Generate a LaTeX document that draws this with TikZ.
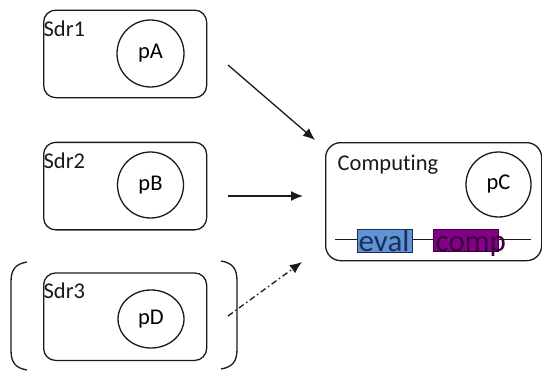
\documentclass[tikz,border=0pt]{standalone}
\usepackage{fontspec}
\setmainfont{Carlito}[Ligatures={NoCommon}]
\usetikzlibrary{arrows.meta,shapes.geometric}
\definecolor{evalfill}{HTML}{5F93D3}
\definecolor{evaltext}{HTML}{1B2F58}
\definecolor{compfill}{HTML}{84008A}
\definecolor{comptext}{HTML}{3A0039}
\definecolor{ink}{HTML}{1A1A1A}
\begin{document}
\begin{tikzpicture}[x=1pt,y=-1pt,
  line width=1.3pt, draw=ink,
  sdrbox/.style={draw=ink,rounded corners=12pt,minimum width=163pt,inner sep=0pt,anchor=north west},
  proc/.style={draw=ink,circle,inner sep=0pt,font=\fontsize{22.5}{26}\selectfont},
  lbl/.style={inner sep=0pt,anchor=base west,font=\fontsize{22.5}{26}\selectfont,text=ink},
  arr/.style={draw=ink,line width=1.3pt,-{Latex[length=12pt,width=10pt]}},
  tagbox/.style={anchor=north west,inner sep=0pt,line width=0.7pt},
  tagtxt/.style={inner sep=0pt,anchor=base west,font=\fontsize{31}{34}\selectfont}
]
\useasboundingbox (0,0) rectangle (542,372);
% sender boxes
\node[sdrbox,minimum height=87.5pt] (box1) at (43,9.5) {};
\node[sdrbox,minimum height=87.5pt] (box2) at (43,141.7) {};
\node[sdrbox,minimum height=87.5pt] (box3) at (43,272.3) {};
\node[lbl] (s1) at (43,37) {Sdr1};
\node[lbl] (s2) at (43,168) {Sdr2};
\node[lbl] (s3) at (43,298) {Sdr3};
\node[proc,minimum size=67pt] (pA) at (150.5,53.5) {pA};
\node[proc,minimum size=66pt] (pB) at (150.5,185) {pB};
\node[draw=ink,ellipse,minimum width=66pt,minimum height=58pt,inner sep=0pt,font=\fontsize{22.5}{26}\selectfont] (pD) at (151,319) {pD};
% parentheses around Sdr3
\draw (27,262) .. controls (15,264) and (11,270) .. (11,282) -- (11,350) .. controls (11,362) and (15,368) .. (27,370);
\draw (221,261) .. controls (233,263) and (237,269) .. (237,281) -- (237,349) .. controls (237,361) and (233,367) .. (221,369);
% computing box
\node[draw=ink,rounded corners=15pt,minimum width=216pt,minimum height=118pt,inner sep=0pt,anchor=north west] (comp) at (325,142) {};
\node[lbl] (ctitle) at (337,170) {Computing};
\node[proc,minimum size=65pt] (pC) at (498.5,184.5) {pC};
\coordinate (l1) at (335,239);
\coordinate (l2) at (531,239);
\draw[line width=0.9pt] (l1) -- (l2);
\node[tagbox,fill=evalfill,draw=evaltext,minimum width=55pt,minimum height=23pt] (evalb) at (357,228.5) {};
\node[tagbox,fill=compfill,draw=comptext,minimum width=65pt,minimum height=22pt] (compb) at (433,228.5) {};
\node[tagtxt,text=evaltext] (evalt) at (358,251) {eval};
\node[tagtxt,text=comptext] (compt) at (435,251) {comp};
% arrows
\coordinate (a1s) at (228,65);
\coordinate (a1e) at (315,140);
\coordinate (a2s) at (228,196);
\coordinate (a2e) at (303,196);
\coordinate (a3s) at (228,316);
\coordinate (a3e) at (302,262);
\draw[arr] (a1s) -- (a1e);
\draw[arr] (a2s) -- (a2e);
\draw[arr,dash pattern=on 6pt off 3pt on 1.5pt off 3pt] (a3s) -- (a3e);
\end{tikzpicture}
\end{document}
